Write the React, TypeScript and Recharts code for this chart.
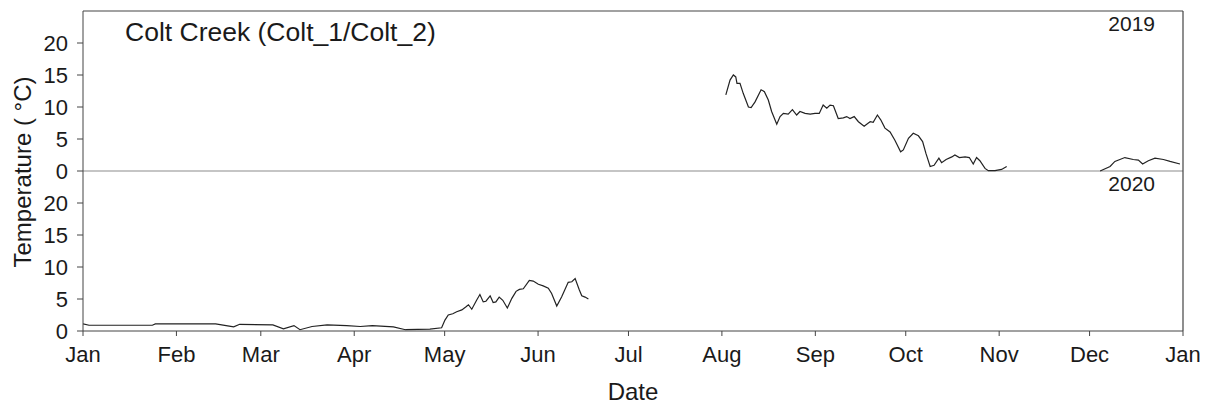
import { LineChart, Line, XAxis, YAxis, ReferenceLine } from 'recharts'

// day of year (from 1 Jan) and daily water temperature
const days2019 = [
  213.3, 214.7, 215.8, 216.6, 217, 218, 219.1, 220.8, 221.7, 223, 225, 226.1, 227.4, 228.5, 230.2,
  231.3, 232.4, 234, 235.4, 236.8, 237.9, 239.6, 241.3, 242.9, 244.3, 245.6, 246.8, 247.9, 249,
  250.6, 252.3, 253.4, 254.5, 255.9, 257.3, 259.2, 260.6, 261.2, 262.2, 263.6, 264.7, 266.1, 267.8,
  269.4, 271.3, 272.2, 273.9, 275.5, 277.2, 278.6, 279.7, 281.1, 282.4, 284, 284.9, 286.4, 288.3,
  289.3, 290.8, 292.7, 294.1, 295.4, 296.5, 297.6, 299.3, 300.4, 302.6, 304.8, 306.5,
  320,
  337.5, 340.8, 342.4, 345.7, 348.5, 350.2, 351.6, 353.5, 355.7, 358.5, 360.7, 364,
]
const temps2019: (number | null)[] = [
  11.9, 14.2, 15.0, 14.7, 13.7, 13.7, 12.1, 10.0, 9.9, 10.8, 12.7, 12.4, 11.1, 9.3, 7.3,
  8.5, 9.0, 8.9, 9.6, 8.75, 9.3, 9.0, 8.9, 9.0, 9.0, 10.3, 9.8, 10.3, 10.2,
  8.2, 8.3, 8.5, 8.2, 8.5, 7.7, 7.0, 7.5, 7.7, 7.6, 8.75, 8.0, 6.7, 6.1,
  4.8, 3.0, 3.3, 5.1, 5.9, 5.5, 4.6, 2.75, 0.7, 0.9, 2.0, 1.3, 1.8, 2.2,
  2.5, 2.1, 2.2, 2.1, 1.1, 2.1, 1.6, 0.4, 0.05, 0.05, 0.25, 0.7,
  null,
  0, 0.7, 1.5, 2.1, 1.8, 1.7, 1.1, 1.6, 2.0, 1.8, 1.5, 1.1,
]

const days2020 = [
  0, 2, 23, 24, 44, 48, 50, 52, 63, 66.5, 70, 72, 76, 81, 87.5, 92, 96, 103, 107,
  115.1, 119, 120.1, 121.2, 122.7, 124, 125.7, 127.1, 127.9, 129, 130.6, 131.7, 132.8, 133.7,
  135.1, 136.1, 137, 138.1, 139.3, 140.8, 142.3, 143.7, 144.8, 146.1, 148.1, 149.4, 151.1, 152.7,
  154.4, 155.5, 157.2, 158.8, 161, 162.2, 163.3, 164.7, 165.5, 166.6, 167.7,
]
const temps2020 = [
  1.1, 0.9, 0.9, 1.1, 1.1, 0.8, 0.65, 1.05, 0.95, 0.35, 0.85, 0.2, 0.7, 0.95, 0.85, 0.7, 0.85, 0.65, 0.2,
  0.3, 0.5, 1.7, 2.5, 2.7, 3.0, 3.3, 3.8, 4.1, 3.4, 4.8, 5.7, 4.55, 4.65,
  5.5, 4.45, 4.55, 5.3, 4.8, 3.6, 5.1, 6.2, 6.5, 6.6, 7.9, 7.8, 7.3, 7.05,
  6.7, 5.85, 3.9, 5.3, 7.6, 7.7, 8.2, 6.4, 5.5, 5.3, 5.0,
]

const monthStarts = [0, 31, 59, 90, 120, 151, 181, 212, 243, 273, 304, 334, 365]
const monthLabels = ['Jan', 'Feb', 'Mar', 'Apr', 'May', 'Jun', 'Jul', 'Aug', 'Sep', 'Oct', 'Nov', 'Dec', 'Jan']
// top panel axis runs -25..25: negatives are the lower (2020) panel
const yTicks = [-25, -20, -15, -10, -5, 0, 5, 10, 15, 20]

const FONT = '"Liberation Sans", Arial, sans-serif'
const INK = '#1a1a1a'

const top = days2019.map((d, i) => ({ day: d, temp: temps2019[i] }))
const bottom = days2020.map((d, i) => ({ day: d, temp: temps2020[i] }))

const overlay = (extra: React.CSSProperties): React.CSSProperties => ({
  position: 'absolute',
  fontFamily: FONT,
  color: INK,
  lineHeight: 1,
  whiteSpace: 'nowrap',
  ...extra,
})

export default function App() {
  return (
    <div style={{ position: 'absolute', left: 0, top: 0, width: 1212, height: 406, background: '#fff' }}>
      <LineChart width={1212} height={406} margin={{ top: 11, right: 29, left: 0, bottom: 35 }}>
        <XAxis
          type="number"
          dataKey="day"
          domain={[0, 365]}
          ticks={monthStarts}
          tickFormatter={(v: number) => monthLabels[monthStarts.indexOf(v)] ?? ''}
          interval={0}
          height={40}
          tickSize={5}
          tickMargin={10}
          stroke="#444"
          tick={{ fill: INK, fontSize: 22, fontFamily: FONT }}
          allowDataOverflow
        />
        <YAxis
          yAxisId="top"
          type="number"
          domain={[-25, 25]}
          ticks={yTicks}
          tickFormatter={(v: number) => String(v < 0 ? v + 25 : v)}
          width={83}
          tickSize={6}
          tickMargin={9}
          stroke="#444"
          tick={{ fill: INK, fontSize: 22, fontFamily: FONT }}
          allowDataOverflow
        />
        <YAxis yAxisId="bottom" orientation="right" type="number" domain={[0, 50]} width={0} hide allowDataOverflow />
        <ReferenceLine yAxisId="top" y={0} stroke="#8c8c8c" strokeWidth={1.2} />
        <ReferenceLine yAxisId="top" y={25} stroke="#444" strokeWidth={1.2} />
        <ReferenceLine yAxisId="top" x={365} stroke="#444" strokeWidth={1.2} />
        <Line
          yAxisId="top"
          data={top}
          dataKey="temp"
          type="linear"
          stroke="#222"
          strokeWidth={1.2}
          dot={false}
          activeDot={false}
          isAnimationActive={false}
        />
        <Line
          yAxisId="bottom"
          data={bottom}
          dataKey="temp"
          type="linear"
          stroke="#222"
          strokeWidth={1.2}
          dot={false}
          activeDot={false}
          isAnimationActive={false}
        />
      </LineChart>

      <div style={overlay({ left: 125, top: 32, fontSize: 26.5, transform: 'translateY(-50%)' })}>
        Colt Creek (Colt_1/Colt_2)
      </div>
      <div style={overlay({ right: 1212 - 1155, top: 23, fontSize: 21, transform: 'translateY(-50%)' })}>2019</div>
      <div style={overlay({ right: 1212 - 1155, top: 183, fontSize: 21, transform: 'translateY(-50%)' })}>2020</div>
      <div style={overlay({ left: 633, top: 392, fontSize: 24, transform: 'translate(-50%, -50%)' })}>Date</div>
      <div
        style={overlay({
          left: 23,
          top: 172,
          fontSize: 24,
          transform: 'translate(-50%, -50%) rotate(-90deg)',
        })}
      >
        Temperature ( °C)
      </div>
    </div>
  )
}
